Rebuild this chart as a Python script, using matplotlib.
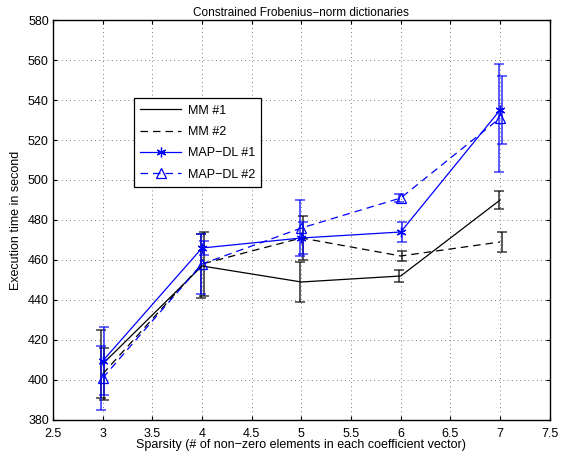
import matplotlib
matplotlib.use("Agg")
import matplotlib.pyplot as plt

sparsity = [3, 4, 5, 6, 7]

mm1 = [408, 457, 449, 452, 490]
mm1_err = [17, 16, 10, 3, 4.5]
mm2 = [403, 458, 471, 462, 469]
mm2_err = [13, 16, 11, 2.5, 5]
mapdl1 = [409.5, 466, 471, 474, 535]
mapdl1_err = [17, 3.5, 8, 5, 17]
mapdl2 = [401, 458, 476, 491, 531]
mapdl2_err = [16, 15, 14, 2, 27]

plt.rcParams["font.family"] = ["Liberation Sans", "DejaVu Sans"]

fig = plt.figure(figsize=(5.61, 4.55), dpi=100)
ax = fig.add_axes([0.0945, 0.077, 0.8855, 0.879])

series = [
    ("MM #1", mm1, mm1_err, "black", "-", None, -0.015),
    ("MM #2", mm2, mm2_err, "black", (0, (6, 4)), None, 0.015),
    ("MAP\u2212DL #1", mapdl1, mapdl1_err, "blue", "-", (6, 2, 0), 0.015),
    ("MAP\u2212DL #2", mapdl2, mapdl2_err, "blue", (0, (6, 4)), "^", -0.015),
]

for label, ys, errs, color, ls, marker, off in series:
    ax.errorbar([x + off for x in sparsity], ys, yerr=errs, fmt="none",
                ecolor=color, elinewidth=1.3, capsize=3.5, capthick=1.2,
                alpha=0.7, zorder=2)
    ax.plot(sparsity, ys, color=color, linestyle=ls, linewidth=0.9,
            marker=marker, markersize=7, markerfacecolor="none",
            markeredgecolor=color, markeredgewidth=0.9, label=label, zorder=3)

ax.set_xlim(2.5, 7.5)
ax.set_ylim(380, 580)
ax.set_xticks([2.5 + 0.5 * i for i in range(11)])
ax.set_xticklabels(["2.5", "3", "3.5", "4", "4.5", "5", "5.5", "6", "6.5", "7", "7.5"])
ax.set_yticks(range(380, 581, 20))
ax.tick_params(direction="in", labelsize=9, length=3, top=True, right=True)
ax.tick_params(axis="x", pad=6)
ax.tick_params(axis="y", pad=3)
ax.grid(True, linestyle=(0, (1, 4)), color="#555555", linewidth=0.6)
for s in ax.spines.values():
    s.set_linewidth(1.0)

ax.set_title("Constrained Frobenius\u2212norm dictionaries", fontsize=8.5, pad=3)
ax.set_xlabel("Sparsity (# of non\u2212zero elements in each coefficient vector)",
              fontsize=9, labelpad=-1)
ax.set_ylabel("Execution time in second", fontsize=9, labelpad=4)

leg = ax.legend(loc="upper left", bbox_to_anchor=(0.15, 0.82), fontsize=9,
                fancybox=False, framealpha=1, edgecolor="black",
                handlelength=3.3, handletextpad=0.5, borderpad=0.5,
                labelspacing=0.75)
leg.get_frame().set_linewidth(0.9)

fig.savefig("out.png", dpi=100)
